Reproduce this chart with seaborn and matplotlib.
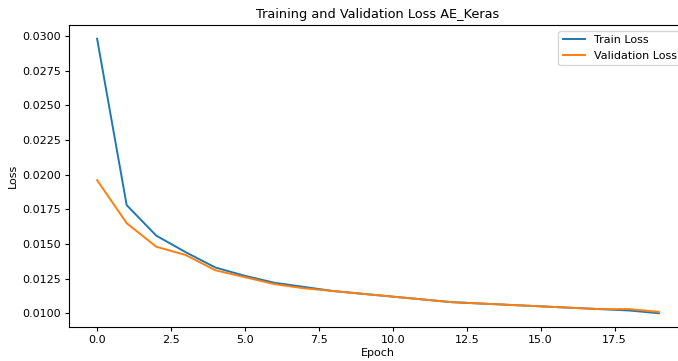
import pandas as pd
import seaborn as sns
import matplotlib.pyplot as plt
import matplotlib as mpl

mpl.rcParams.update(mpl.rcParamsDefault)
plt.rcParams['font.family'] = ['DejaVu Sans']

# loss per epoch
epochs = list(range(20))
train_loss = [0.0298, 0.0178, 0.0156, 0.0144, 0.0133, 0.0127, 0.0122, 0.0119, 0.0116, 0.0114,
              0.0112, 0.0110, 0.0108, 0.0107, 0.0106, 0.0105, 0.0104, 0.0103, 0.0102, 0.0100]
val_loss = [0.0196, 0.0165, 0.0148, 0.0142, 0.0131, 0.0126, 0.0121, 0.0118, 0.0116, 0.0114,
            0.0112, 0.0110, 0.0108, 0.0107, 0.0106, 0.0105, 0.0104, 0.0103, 0.0103, 0.0101]

df = pd.DataFrame({'Epoch': epochs + epochs,
                   'Loss': train_loss + val_loss,
                   'Series': ['Train Loss'] * len(epochs) + ['Validation Loss'] * len(epochs)})

fig = plt.figure(figsize=(6.78, 3.61), dpi=100)
# the reference is cropped on the right, so the axes run past the figure edge
ax = fig.add_axes([69 / 678, 1 - 327 / 361, 618 / 678, 302 / 361])

sns.lineplot(data=df, x='Epoch', y='Loss', hue='Series',
             palette=['#1f77b4', '#ff7f0e'], linewidth=1.4, ax=ax)

ax.set_title('Training and Validation Loss AE_Keras', fontsize=9.3, pad=5)
ax.set_xlabel('Epoch', fontsize=8, labelpad=2)
ax.set_ylabel('Loss', fontsize=8, labelpad=3)
ax.tick_params(labelsize=8, length=3, pad=3)
ax.yaxis.set_major_formatter(mpl.ticker.FormatStrFormatter('%.4f'))
ax.legend(title=None, loc='upper right', fontsize=8)

fig.savefig('out.png', dpi=100)
